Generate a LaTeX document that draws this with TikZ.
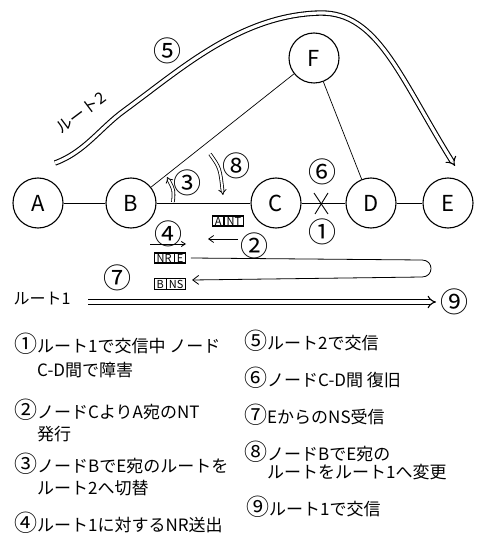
\documentclass[tikz,border=0pt]{standalone}
\usepackage{fontspec}
\setmainfont{Noto Sans CJK JP}
\usetikzlibrary{arrows.meta,shapes.multipart}
\newcommand\cnum[1]{{\fontsize{23}{17}\selectfont #1}}
\tikzset{
  station/.style={circle, draw, line width=1.1pt, minimum size=50pt, inner sep=0pt, font=\fontsize{22}{22}\selectfont},
  link/.style={line width=0.9pt},
  thinlink/.style={line width=0.7pt},
  route/.style={double, double distance=3.2pt, line width=1.1pt, -{Implies}},
  smallroute/.style={double, double distance=2pt, line width=0.8pt, -{Implies}},
  msg/.style={line width=0.8pt},
  num/.style={font=\fontsize{28}{28}\selectfont, inner sep=0pt},
  legend/.style={anchor=west, font=\fontsize{17}{17}\selectfont, inner sep=0pt},
  msgbox/.style={rectangle split, rectangle split horizontal, rectangle split parts=2, draw, line width=1.2pt, inner xsep=2pt, inner ysep=1pt, font=\fontsize{11}{11}\selectfont}
}
\begin{document}
\begin{tikzpicture}[x=1pt,y=-1pt]
\useasboundingbox (0,0) rectangle (482,537);
% stations
\node[station] (A) at (38,203) {A};
\node[station] (B) at (131,203) {B};
\node[station] (C) at (276,203) {C};
\node[station] (D) at (371,203) {D};
\node[station] (E) at (448,203) {E};
\node[station] (F) at (314,58) {F};
% links
\draw[link] (A) -- (B);
\draw[link] (B) -- (C);
\draw[link] (C) -- (D);
\draw[link] (D) -- (E);
\draw[thinlink] (F) -- (B);
\draw[thinlink] (F) -- (D);
% fault mark
\draw[link] (314,193) -- (328,214);
\draw[link] (328,193) -- (315,214);
% route 2
\coordinate (r2s) at (55,163);
\coordinate (r2e) at (455,166);
\draw[route] (r2s) .. controls (85,152) and (100,128) .. (125,110)
  .. controls (180,70) and (240,15) .. (320,13)
  .. controls (378,12) and (400,78) .. (r2e);
\node[num] (n5) at (167,51) {⑤};
\node[rotate=37, inner sep=0pt, font=\fontsize{16}{16}\selectfont] (r2label) at (81,113) {ルート2};
% step 3 and 8 arrows
\coordinate (a3s) at (173,202);
\coordinate (a3e) at (167,177);
\draw[smallroute] (a3s) .. controls (174,190) .. (a3e);
\node[num] (n3) at (187,183) {③};
\coordinate (a8s) at (210,154);
\coordinate (a8e) at (223,195);
\draw[smallroute] (a8s) .. controls (220,168) .. (a8e);
\node[num] (n8) at (236,166) {⑧};
\node[num] (n6) at (322,172) {⑥};
\node[num] (n1) at (322,232) {①};
% message A|NT
\node[msgbox] (ant) at (228,221) {A\nodepart{two}NT};
\coordinate (a2s) at (238,239);
\coordinate (a2e) at (208,239);
\draw[msg, -{Straight Barb[length=5pt,width=7pt]}] (a2s) -- (a2e);
\node[num] (n2) at (254,246) {②};
% message NR|E
\node[num] (n4) at (168,234) {④};
\coordinate (a4s) at (150,244);
\coordinate (a4e) at (186,244);
\draw[msg, -{Straight Barb[length=4pt,width=5pt]}] (a4s) -- (a4e);
\node[msgbox] (nr) at (170,258) {NR\nodepart{two}E};
\node[msgbox] (ns) at (170,284) {B\nodepart{two}NS};
\coordinate (ur) at (422,260);
\coordinate (lr) at (422,277);
\draw[msg, -{Straight Barb[length=6pt,width=9pt]}] ([xshift=5pt]nr.east) -- (ur)
  .. controls (434,260) and (434,277) .. (lr) -- ([xshift=6pt,yshift=4pt]ns.east);
\node[num] (n7) at (117,278) {⑦};
% route 1
\node[inner sep=0pt, font=\fontsize{16}{16}\selectfont] (r1label) at (42,299) {ルート1};
\coordinate (r1s) at (88,302);
\coordinate (r1e) at (436,302);
\draw[route] (r1s) -- (r1e);
\node[num] (n9) at (454,302) {⑨};
% legend left
\node[legend] (l1a) at (14,344) {\cnum{①}ルート1で交信中 ノード};
\node[legend] (l1b) at (37,370) {C-D間で障害};
\node[legend] (l2a) at (14,410) {\cnum{②}ノードCよりA宛のNT};
\node[legend] (l2b) at (37,434) {発行};
\node[legend] (l3a) at (14,464) {\cnum{③}ノードBでE宛のルートを};
\node[legend] (l3b) at (37,488) {ルート2へ切替};
\node[legend] (l4) at (14,523) {\cnum{④}ルート1に対するNR送出};
% legend right
\node[legend] (l5) at (244,341) {\cnum{⑤}ルート2で交信};
\node[legend] (l6) at (244,378) {\cnum{⑥}ノードC-D間 復旧};
\node[legend] (l7) at (244,415) {\cnum{⑦}EからのNS受信};
\node[legend] (l8a) at (244,452) {\cnum{⑧}ノードBでE宛の};
\node[legend] (l8b) at (267,472) {ルートをルート1へ変更};
\node[legend] (l9) at (246,507) {\cnum{⑨}ルート1で交信};
\end{tikzpicture}
\end{document}
